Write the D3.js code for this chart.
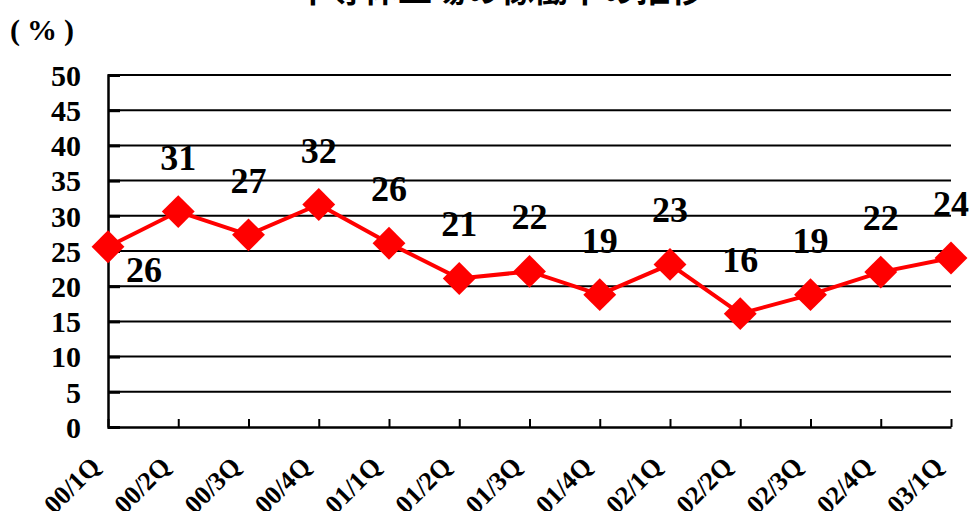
<!DOCTYPE html>
<html>
<head>
<meta charset="utf-8">
<script src="https://cdn.jsdelivr.net/npm/d3@7"></script>
<style>
  body { margin: 0; background: #fff; }
  svg { display: block; }
</style>
</head>
<body>
<svg id="chart"></svg>
<script>
const quarters = ["00/1Q", "00/2Q", "00/3Q", "00/4Q", "01/1Q", "01/2Q", "01/3Q",
                  "01/4Q", "02/1Q", "02/2Q", "02/3Q", "02/4Q", "03/1Q"];
const rates = [25.6, 30.6, 27.3, 31.6, 26.1, 21.1, 22.1, 18.8, 23.1, 16.1, 18.8, 22.0, 24.0];
const yTicks = [0, 5, 10, 15, 20, 25, 30, 35, 40, 45, 50];
const titleText = "半導体工場の稼働率の推移";

const width = 975, height = 511;
const margin = { top: 75, right: 24, bottom: 84, left: 108 };

const svg = d3.select("#chart")
  .attr("width", width)
  .attr("height", height);

const x = d3.scalePoint()
  .domain(quarters)
  .range([margin.left, width - margin.right]);

const y = d3.scaleLinear()
  .domain([0, 50])
  .range([height - margin.bottom, margin.top]);

const serif = "'Liberation Serif', 'Times New Roman', serif";

// title, cut off at the top of the picture
svg.append("text")
  .attr("x", 500)
  .attr("y", 2)
  .attr("text-anchor", "middle")
  .attr("font-family", "'Noto Sans CJK JP', sans-serif")
  .attr("font-weight", "bold")
  .attr("font-size", 34)
  .text(titleText);

svg.append("text")
  .attr("x", 10)
  .attr("y", 40)
  .attr("font-family", serif)
  .attr("font-weight", "bold")
  .attr("font-size", 30)
  .attr("letter-spacing", 7)
  .text("(%)");

// horizontal grid lines
svg.append("g")
  .selectAll("line")
  .data(yTicks.filter(d => d > 0))
  .join("line")
  .attr("x1", margin.left)
  .attr("x2", width - margin.right)
  .attr("y1", d => y(d))
  .attr("y2", d => y(d))
  .attr("stroke", "#000")
  .attr("stroke-width", 2);

// y axis (ticks pointing inward)
const yAxis = svg.append("g")
  .attr("transform", `translate(${margin.left},0)`)
  .call(d3.axisLeft(y).tickValues(yTicks).tickSize(-12).tickPadding(27));
yAxis.select(".domain").attr("stroke-width", 2.5);
yAxis.selectAll(".tick line").attr("stroke-width", 3);
yAxis.selectAll("text")
  .attr("font-family", serif)
  .attr("font-weight", "bold")
  .attr("font-size", 30)
  .attr("dy", "0.34em");

// x axis (ticks pointing inward)
const xAxis = svg.append("g")
  .attr("transform", `translate(0,${height - margin.bottom})`)
  .call(d3.axisBottom(x).tickSize(-8).tickSizeOuter(0).tickPadding(0));
xAxis.select(".domain").attr("stroke-width", 2.5);
xAxis.selectAll(".tick line").attr("stroke-width", 2);
xAxis.selectAll("text")
  .attr("font-family", serif)
  .attr("font-weight", "bold")
  .attr("font-size", 26)
  .attr("text-anchor", "end")
  .attr("dy", 0)
  .attr("transform", "translate(-7,41) rotate(-45)");

// series line
const line = d3.line()
  .x((d, i) => x(quarters[i]))
  .y(d => y(d));

svg.append("path")
  .datum(rates)
  .attr("d", line)
  .attr("fill", "none")
  .attr("stroke", "#ff0000")
  .attr("stroke-width", 4);

// diamond markers
svg.append("g")
  .selectAll("path")
  .data(rates)
  .join("path")
  .attr("d", d3.symbol(d3.symbolSquare, 540))
  .attr("transform", (d, i) => `translate(${x(quarters[i])},${y(d)}) rotate(45)`)
  .attr("fill", "#ff0000");

// data labels
const fmt = d3.format(".0f");
svg.append("g")
  .selectAll("text")
  .data(rates)
  .join("text")
  .attr("x", (d, i) => x(quarters[i]) + (i === 0 ? 36 : 0))
  .attr("y", (d, i) => y(d) + (i === 0 ? 35 : -42))
  .attr("text-anchor", "middle")
  .attr("font-family", serif)
  .attr("font-weight", "bold")
  .attr("font-size", 36)
  .text(d => fmt(d));
</script>
</body>
</html>
